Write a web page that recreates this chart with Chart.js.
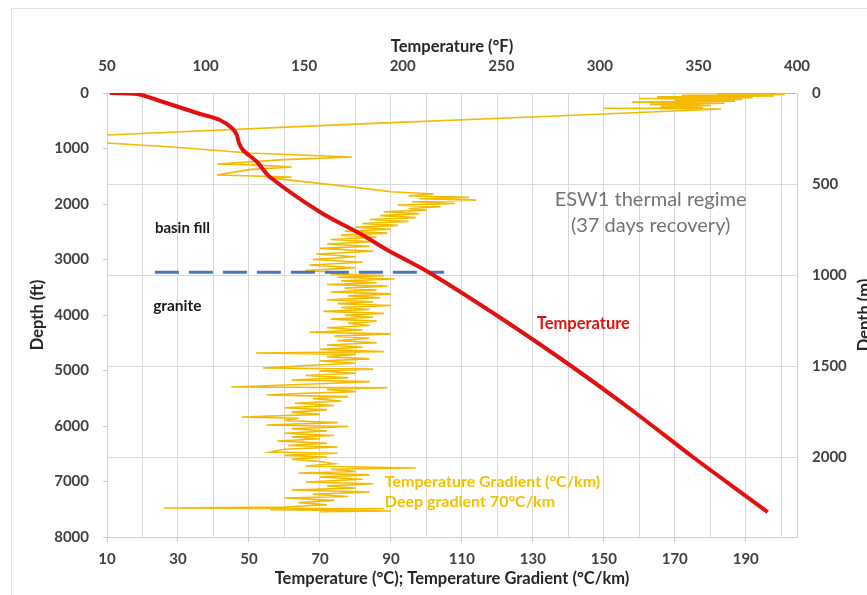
<!DOCTYPE html>
<html>
<head>
<meta charset="utf-8">
<script src="https://cdn.jsdelivr.net/npm/chart.js@4.4.1/dist/chart.umd.min.js"></script>
<style>
  html, body { margin: 0; padding: 0; background: #fff; overflow: hidden; }
  #wrap { position: relative; width: 867px; height: 595px; }
</style>
</head>
<body>
<div id="wrap"><canvas id="c"></canvas></div>
<script>
// temperature log (depth ft -> °C)
const tempDepthFt = [0, 18, 126, 360, 486, 631, 757, 901, 1027, 1243, 1514, 2144, 2559, 2829, 3243, 4090, 4937, 5748, 6559, 7064, 7550];
const tempC = [10.8, 18.5, 24.1, 35.4, 41.8, 45.2, 46.6, 47.2, 48.3, 52.3, 55.9, 70.0, 82.0, 89.0, 101.0, 121.8, 141.2, 158.6, 175.1, 185.8, 196.2];

// temperature gradient log (depth ft -> °C/km)
const gradDepthFt = [
  0, 12, 25, 40, 55, 70, 85, 100, 118, 135, 150, 165, 185, 205, 225, 245, 262, 275, 288,
  420, 560, 757, 830, 901, 960, 990, 1080, 1153, 1200, 1279, 1290, 1333, 1380, 1478, 1514, 1530,
  1700, 1780, 1820, 1850, 1880, 1905, 1930, 1960, 1990, 2020, 2050, 2080, 2110, 2140, 2175, 2210,
  2245, 2280, 2315, 2350, 2385, 2420, 2455, 2490, 2525, 2560, 2600, 2640, 2680, 2720, 2760, 2800,
  2850, 2900, 2950, 3000, 3050, 3100, 3150, 3200, 3240,
  3260, 3290, 3320, 3350, 3385, 3420, 3450, 3480, 3515, 3550, 3585, 3620, 3655, 3690, 3725, 3760,
  3795, 3830, 3865, 3900, 3935, 3970, 4005, 4040, 4075, 4110, 4150, 4190, 4230, 4270, 4310, 4340,
  4380, 4420, 4460, 4500, 4540, 4580, 4620, 4660, 4685, 4710, 4750, 4790, 4830, 4870, 4910, 4955,
  4975, 5010, 5050, 5090, 5130, 5172, 5200, 5240, 5298, 5310, 5340, 5380, 5420, 5442, 5470, 5510,
  5550, 5590, 5630, 5670, 5710, 5750, 5790, 5838, 5860, 5900, 5940, 5983, 6010, 6050, 6090, 6130,
  6170, 6199, 6230, 6270, 6310, 6350, 6379, 6420, 6469, 6490, 6530, 6559, 6600, 6640, 6680, 6720,
  6757, 6780, 6820, 6848, 6880, 6920, 6960, 7010, 7040, 7080, 7120, 7154, 7190, 7230, 7270, 7298,
  7340, 7380, 7420, 7460, 7478, 7490, 7510, 7532, 7545
];
const gradCperKm = [
  204, 182, 201, 172, 198, 165, 192, 160, 189, 170, 187, 158, 184, 163, 180, 166, 178, 150, 183,
  135, 80, 10, -4, 10, 25, 32, 50, 79, 60, 41, 50, 62, 50, 41, 62, 56,
  80, 90, 102, 95, 112, 98, 114, 96, 108, 92, 104, 95, 100, 88, 98, 87,
  97, 84, 95, 82, 92, 80, 90, 77, 89, 76, 86, 73, 85, 72, 84, 70,
  85, 69, 80, 68, 82, 67, 80, 66, 78,
  73, 88, 75, 91, 76, 86, 72, 89, 77, 86, 73, 90, 78, 87, 72, 85,
  75, 90, 76, 84, 71, 88, 77, 85, 73, 86, 78, 84, 72, 82, 67, 90,
  74, 84, 75, 86, 72, 82, 70, 88, 52, 80, 72, 84, 70, 80, 66, 54,
  85, 70, 80, 66, 78, 62, 84, 70, 45, 89, 72, 80, 62, 55, 78, 68,
  76, 63, 74, 60, 72, 62, 70, 48, 64, 60, 75, 55, 78, 62, 72, 60,
  74, 62, 70, 58, 72, 61, 75, 60, 56, 75, 60, 72, 62, 70, 74, 66,
  97, 73, 80, 64, 84, 70, 82, 66, 85, 72, 80, 62, 84, 68, 78, 60,
  74, 64, 72, 60, 26, 88, 56, 90, 70
];

// basin fill / granite contact (dashed line)
const contactDepthFt = [3230, 3230];
const contactC = [23.5, 105];

// right axis tick labels (m)
const depthMTicks = [0, 500, 1000, 1500, 2000];

const xy = (xs, ys) => xs.map((v, i) => ({ x: v, y: ys[i] }));

const tickFont = { size: 15, weight: 'bold' };
const titleFont = { size: 16.5, weight: 'bold' };
const gridGray = '#d9d9d9';
const edgeGray = '#cfcfcf';
const fam = 'Lato, "Open Sans", sans-serif';

Chart.defaults.font.family = fam;

const notes = {
  id: 'notes',
  beforeDraw(chart) {
    const ctx = chart.ctx;
    ctx.save();
    ctx.fillStyle = '#fff';
    ctx.fillRect(0, 0, chart.width, chart.height);
    ctx.strokeStyle = '#e2e2e2';
    ctx.lineWidth = 1;
    ctx.strokeRect(11.5, 8.5, chart.width + 20, chart.height + 20);
    ctx.restore();
  },
  afterDatasetsDraw(chart) {
    const { ctx, scales: { x, y } } = chart;
    const put = (txt, vx, vy, font, color, align) => {
      ctx.save();
      ctx.font = font;
      ctx.fillStyle = color;
      ctx.textAlign = align;
      ctx.textBaseline = 'middle';
      ctx.fillText(txt, x.getPixelForValue(vx), y.getPixelForValue(vy));
      ctx.restore();
    };
    put('basin fill', 23.5, 2433, 'bold 15px ' + fam, '#1a1a1a', 'left');
    put('granite', 23.0, 3838, 'bold 15.5px ' + fam, '#1a1a1a', 'left');
    put('ESW1 thermal regime', 163.2, 1928, '20px ' + fam, '#737373', 'center');
    put('(37 days recovery)', 163.2, 2397, '20px ' + fam, '#737373', 'center');
    put('Temperature', 131.1, 4163, 'bold 16.5px ' + fam, '#e01010', 'left');
    put('Temperature Gradient (°C/km)', 88.3, 7010, 'bold 16px ' + fam, '#f2c100', 'left');
    put('Deep gradient 70°C/km', 88.3, 7370, 'bold 16px ' + fam, '#f2c100', 'left');
  },
  afterDraw(chart) {
    const { ctx, chartArea } = chart;
    ctx.save();
    ctx.translate(865, (chartArea.top + chartArea.bottom) / 2);
    ctx.rotate(-Math.PI / 2);
    ctx.font = 'bold 16.5px ' + fam;
    ctx.fillStyle = '#262626';
    ctx.textAlign = 'center';
    ctx.textBaseline = 'middle';
    ctx.fillText('Depth (m)', 0, 0);
    ctx.restore();
  }
};

new Chart(document.getElementById('c'), {
  type: 'scatter',
  data: {
    datasets: [
      {
        label: 'Temperature',
        data: xy(tempC, tempDepthFt),
        showLine: true,
        borderColor: '#e31010',
        borderWidth: 4,
        pointRadius: 0,
        tension: 0.3,
        xAxisID: 'x',
        yAxisID: 'y'
      },
      {
        label: 'contact',
        data: xy(contactC, contactDepthFt),
        showLine: true,
        borderColor: '#4a74c4',
        borderWidth: 3,
        borderDash: [24, 10],
        pointRadius: 0,
        xAxisID: 'x',
        yAxisID: 'y'
      },
      {
        label: 'Temperature Gradient',
        data: xy(gradCperKm, gradDepthFt),
        showLine: true,
        borderColor: '#f5b900',
        borderWidth: 1.6,
        pointRadius: 0,
        tension: 0,
        xAxisID: 'x',
        yAxisID: 'y'
      }
    ]
  },
  options: {
    responsive: true,
    maintainAspectRatio: false,
    animation: false,
    events: [],
    layout: { padding: 0 },
    plugins: { legend: { display: false }, tooltip: { enabled: false } },
    scales: {
      x: {
        type: 'linear', position: 'bottom',
        min: 10, max: (400 - 32) / 1.8,
        ticks: {
          stepSize: 10, includeBounds: false, padding: 8, color: '#404040', font: tickFont,
          maxRotation: 0, autoSkip: false,
          callback: v => ((Math.round(v) - 10) % 20 === 0 ? String(Math.round(v)) : '')
        },
        grid: {
          color: gridGray, tickLength: 5,
          tickColor: c => (c.tick && (Math.round(c.tick.value) - 10) % 20 === 0 ? '#c8c8c8' : 'rgba(0,0,0,0)')
        },
        border: { color: edgeGray },
        title: { display: true, text: 'Temperature (°C); Temperature Gradient (°C/km)', color: '#262626', font: titleFont, padding: { top: 0, bottom: 6 } },
        afterFit: s => { s.height = 58; }
      },
      xF: {
        type: 'linear', position: 'top',
        min: 50, max: 400,
        ticks: { stepSize: 50, padding: 10, color: '#404040', font: tickFont, maxRotation: 0, callback: v => String(v) },
        grid: { display: false },
        border: { display: true, color: edgeGray },
        title: { display: true, text: 'Temperature (°F)', color: '#262626', font: titleFont, padding: { top: 37, bottom: 0 } },
        afterFit: s => { s.height = 93; }
      },
      y: {
        type: 'linear', position: 'left', reverse: true,
        min: 0, max: 8000,
        ticks: { stepSize: 1000, padding: 14, color: '#404040', font: tickFont, callback: v => String(v) },
        grid: { drawOnChartArea: false, tickLength: 4, color: '#c8c8c8' },
        border: { color: edgeGray },
        title: { display: true, text: 'Depth (ft)', color: '#262626', font: titleFont, padding: { top: 28, bottom: 0 } },
        afterFit: s => { s.width = 107; }
      },
      yM: {
        type: 'linear', position: 'right', reverse: true,
        min: 0, max: 8000 * 0.3048,
        afterBuildTicks: s => { s.ticks = depthMTicks.map(v => ({ value: v })); },
        ticks: { padding: 15, color: '#404040', font: tickFont, callback: v => String(v) },
        grid: { color: gridGray, drawTicks: false },
        border: { color: edgeGray },
        afterFit: s => { s.width = 70; }
      }
    }
  },
  plugins: [notes]
});
</script>
</body>
</html>
